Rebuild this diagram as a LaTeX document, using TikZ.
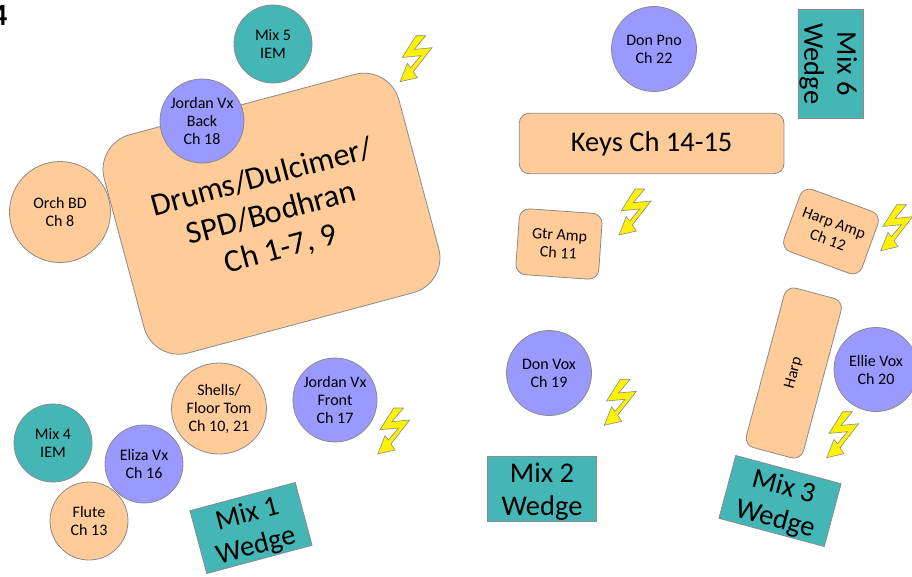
\documentclass[tikz,border=0pt]{standalone}
\usepackage{fontspec}
\usetikzlibrary{shapes.geometric}
\setmainfont{Carlito}
\definecolor{peach}{HTML}{FFCC99}
\definecolor{lav}{HTML}{9999FF}
\definecolor{teal2}{HTML}{45B6B6}
\definecolor{edge}{HTML}{8A8A8A}
\newcommand{\wst}{\rule{0pt}{25pt}}
\tikzset{
 base/.style={draw=edge,line width=0.8pt,align=center,inner sep=0pt,text=black,font=\fontsize{16}{18}\selectfont},
 circ/.style={base,circle,minimum size=#1},
 chan/.style={circ=#1,fill=peach},
 vox/.style={circ=#1,fill=lav},
 iem/.style={circ=78,fill=teal2},
 block/.style={base,rectangle,rounded corners=10pt,fill=peach},
 wedge/.style={base,rectangle,fill=teal2,minimum width=109,minimum height=65,font=\fontsize{28.5}{33}\selectfont},
 bolt/.pic={\draw[draw=edge,line width=0.6pt,fill=yellow] (0,0) -- (17.3,-4) -- (13.3,-10) -- (32,-34) -- (14.3,-32.3) -- (25.7,-46) -- (16,-46) -- (2.3,-24.3) -- (20.7,-26) -- (10.7,-14) -- (7.3,-18.3) -- cycle;}
}
\begin{document}
\begin{tikzpicture}[x=1pt,y=-1pt]
\useasboundingbox (0,0) rectangle (912,576);
\clip (0,0) rectangle (912,576);
\node[block,rotate=15,minimum width=305,minimum height=226,rounded corners=36pt,font=\fontsize{32}{37}\selectfont] (drums) at (271.5,213.7) {Drums/Dulcimer/\\SPD/Bodhran\\Ch 1-7, 9};
\node[iem] (mixfive) at (273,44) {Mix 5\\IEM};
\node[vox=84] (jback) at (202,121) {Jordan Vx\\Back\\Ch 18};
\node[chan=101] (orch) at (60,212) {Orch BD\\Ch 8};
\node[base,ellipse,fill=peach,minimum width=95,minimum height=91] (shells) at (219,408.5) {Shells/\\Floor Tom\\Ch 10, 21};
\node[vox=84] (jfront) at (335,400) {Jordan Vx\\Front\\Ch 17};
\node[iem] (mixfour) at (53,443) {Mix 4\\IEM};
\node[vox=78] (eliza) at (144,464) {Eliza Vx\\Ch 16};
\node[chan=78] (flute) at (89,521) {Flute\\Ch 13};
\node[vox=85] (donpno) at (654,49) {Don Pno\\Ch 22};
\node[vox=85] (donvox) at (549,373) {Don Vox\\Ch 19};
\node[vox=84] (ellie) at (876,369.5) {Ellie Vox\\Ch 20};
\node[wedge,rotate=15] (mixone) at (251,528) {\wst Mix 1\\Wedge};
\node[wedge] (mixtwo) at (542,489) {\wst Mix 2\\Wedge};
\node[wedge,rotate=-15] (mixthree) at (780,501) {\wst Mix 3\\Wedge};
\node[wedge,rotate=-90] (mixsix) at (831,63.8) {\wst Mix 6\\Wedge};
\node[block,minimum width=264.7,minimum height=60.4,font=\fontsize{28.5}{33}\selectfont] (keys) at (651.6,143.5) {Keys Ch 14-15};
\node[block,rotate=-4,minimum width=83,minimum height=66] (gtr) at (559,244) {Gtr Amp\\Ch 11};
\node[block,rotate=-20,minimum width=83,minimum height=66] (harpamp) at (831,231.5) {Harp Amp\\Ch 12};
\node[block,rotate=-15,minimum width=59,minimum height=165] (harp) at (793.8,373) {\rotatebox{90}{Harp}};
\pic at (400,81.7) {bolt};
\pic at (377.7,454) {bolt};
\pic at (619,235) {bolt};
\pic at (880.7,250.7) {bolt};
\pic at (604.3,425.3) {bolt};
\pic at (826.7,457.7) {bolt};
\node[anchor=base east,inner sep=0pt,font=\bfseries\fontsize{31}{33}\selectfont] (pagenum) at (7.5,25) {4};
\end{tikzpicture}
\end{document}
